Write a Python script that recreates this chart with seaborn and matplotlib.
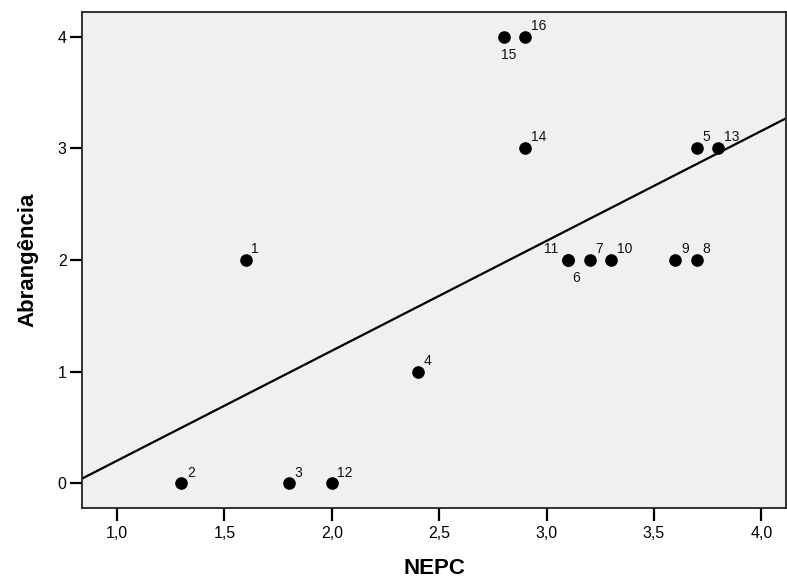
import numpy as np
import pandas as pd
import matplotlib
matplotlib.use('Agg')
import matplotlib.pyplot as plt
import seaborn as sns

case_ids = [1, 2, 3, 4, 5, 6, 7, 8, 9, 10, 11, 12, 13, 14, 15, 16]
nepc = [1.6, 1.3, 1.8, 2.4, 3.7, 3.1, 3.2, 3.7, 3.6, 3.3, 3.1, 2.0, 3.8, 2.9, 2.8, 2.9]
abrangencia = [2, 0, 0, 1, 3, 2, 2, 2, 2, 2, 2, 0, 3, 3, 4, 4]

# label offsets in points (most labels sit up-right of the point)
label_offsets = {6: (3, -16), 11: (-17, 5), 15: (-2, -16)}

data = pd.DataFrame({'case': case_ids, 'NEPC': nepc, 'Abrangencia': abrangencia})

sns.set_style('white')
plt.rcParams['font.family'] = ['Liberation Sans', 'DejaVu Sans']

fig = plt.figure(figsize=(7.87, 5.78), dpi=100)
ax = fig.add_axes([0.104, 0.121, 0.895, 0.858])
ax.set_facecolor('#f0f0f0')
ax.set_xlim(0.836, 4.116)
ax.set_ylim(-0.22, 4.22)

sns.regplot(x='NEPC', y='Abrangencia', data=data, ax=ax, ci=None, truncate=False,
            scatter_kws={'s': 65, 'color': 'black', 'edgecolor': 'black', 'alpha': 1, 'zorder': 3},
            line_kws={'color': 'black', 'linewidth': 1.6})

for _, row in data.iterrows():
    off = label_offsets.get(row['case'], (4, 5))
    ax.annotate(str(int(row['case'])), (row['NEPC'], row['Abrangencia']),
                xytext=off, textcoords='offset points', fontsize=10, color='#111111')

ax.set_xticks([1.0, 1.5, 2.0, 2.5, 3.0, 3.5, 4.0])
ax.set_xticklabels(['1,0', '1,5', '2,0', '2,5', '3,0', '3,5', '4,0'])
ax.set_yticks([0, 1, 2, 3, 4])
ax.set_yticklabels(['0', '1', '2', '3', '4'])
ax.tick_params(axis='both', direction='out', length=9, width=1.6, labelsize=11.5,
               colors='black', bottom=True, left=True, pad=2)
ax.tick_params(axis='x', pad=4)
for side in ['left', 'bottom', 'top', 'right']:
    ax.spines[side].set_color('#222222')
    ax.spines[side].set_linewidth(1.3)

ax.set_xlabel('NEPC', fontsize=16, fontweight='bold', labelpad=12, color='black')
ax.set_ylabel('Abrangência', fontsize=16, fontweight='bold', labelpad=14, color='black')

fig.savefig('out.png', dpi=100)
